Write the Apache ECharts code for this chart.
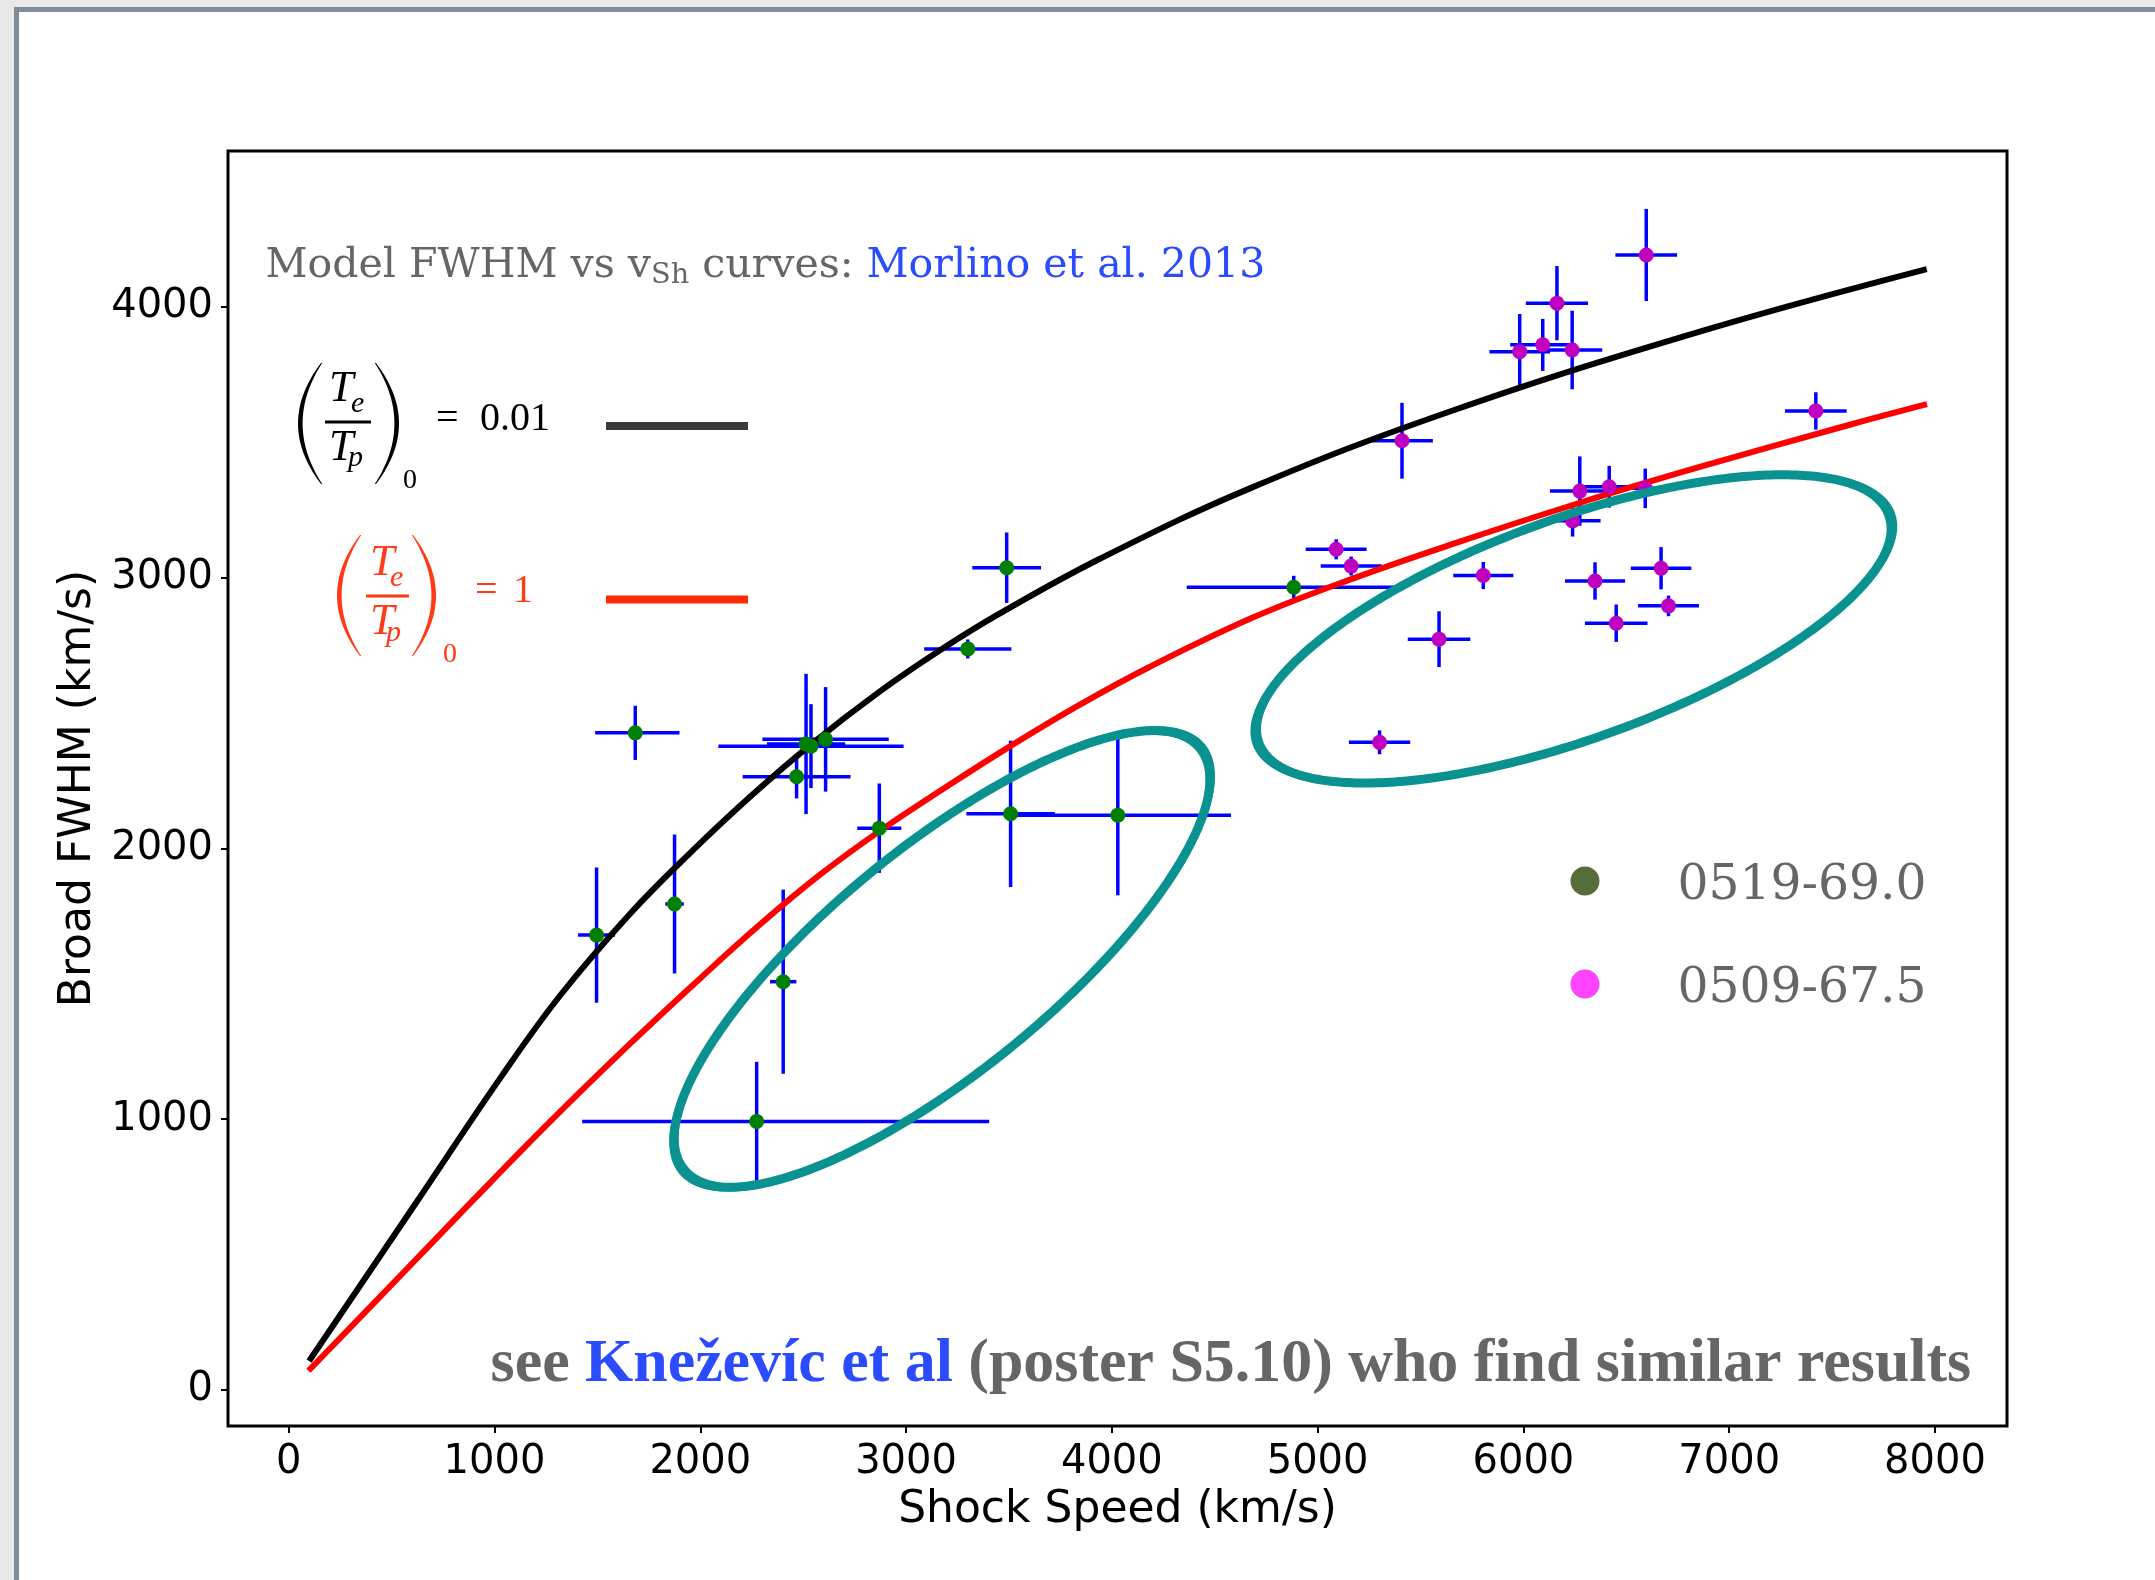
<!DOCTYPE html>
<html><head><meta charset="utf-8">
<script src="https://cdn.jsdelivr.net/npm/echarts@6/dist/echarts.min.js"></script>
<style>
html,body{margin:0;padding:0;width:2155px;height:1580px;overflow:hidden;background:#e9e9e9;}
#panel{position:absolute;left:14px;top:7px;right:0;bottom:0;background:#fff;border-left:5px solid #7e8c9b;border-top:5px solid #7e8c9b;}
#chart{position:absolute;left:0;top:0;width:2155px;height:1580px;}
</style></head><body><div id="panel"></div><div id="chart"></div>
<script>
// ---------------- data ----------------
const xTickValues = [0, 1000, 2000, 3000, 4000, 5000, 6000, 7000, 8000];
const xTickLabels = ['0', '1000', '2000', '3000', '4000', '5000', '6000', '7000', '8000'];
const yTickValues = [0, 1000, 2000, 3000, 4000];
const yTickLabels = ['0', '1000', '2000', '3000', '4000'];

// 0519-69.0 (green)
const g0519X     = [1496, 1684, 1875, 2274, 2403, 2468, 2514, 2538, 2609, 2870, 3300, 3489, 3508, 4029, 4884];
const g0519Y     = [1680, 2427, 1795,  992, 1508, 2265, 2386, 2378, 2403, 2075, 2737, 3037, 2128, 2123, 2965];
const g0519XErrLo= [  90,  195,   45,  848,   64,  262,  190,  450,  307,  107,  212,  167,  215,  550,  520];
const g0519XErrHi= [  90,  215,   45, 1130,   64,  262,  190,  450,  307,  107,  212,  167,  215,  550,  520];
const g0519YErr  = [ 250,  100,  257,  220,  340,   80,  259,  155,  193,  165,   35,  130,  270,  296,   42];

// 0509-67.5 (magenta)
const m0509X    = [5090, 5163, 5301, 5410, 5590, 5805, 5982, 6094, 6163, 6237, 6239, 6274, 6348, 6417, 6451, 6592, 6597, 6669, 6705, 7421];
const m0509Y    = [3105, 3043, 2392, 3506, 2773, 3008, 3835, 3860, 4014, 3841, 3210, 3320, 2988, 3336, 2832, 3330, 4192, 3035, 2896, 3616];
const m0509XErr = [ 148,  148,  149,  150,  152,  146,  147,  158,  151,  146,  136,  145,  146,  145,  152,  145,  150,  147,  148,  150];
const m0509YErr = [  37,   35,   44,  140,  103,   50,  139,   96,  137,  145,   58,  128,   69,   77,   69,   73,  170,   78,   38,   69];

// model curves (Morlino et al. 2013)
const curveLowX = [99, 624, 1027, 1319, 1659, 1950, 2242, 2533, 2873, 3165, 3456, 3942, 4671, 5643, 6857, 7960];  // (Te/Tp)0 = 0.01
const curveLowY = [107, 697, 1151, 1457, 1759, 1983, 2191, 2381, 2580, 2732, 2868, 3070, 3330, 3614, 3909, 4140];
const curveEqX  = [96, 541, 896, 1270, 1659, 1999, 2290, 2582, 2873, 3213, 3505, 3845, 4185, 4671, 5096, 5643, 6267, 6857, 7586, 7961]; // (Te/Tp)0 = 1
const curveEqY  = [71, 421, 701,  991, 1279, 1520, 1719, 1903, 2065, 2236, 2377, 2531, 2671, 2848, 2976, 3121, 3275, 3409, 3565, 3641];

// hand-drawn ellipses: centre, end of major axis, end of minor axis (data units)
const ellCenterX = [3175, 6245];
const ellCenterY = [1592, 2811];
const ellMajorX  = [4432, 7780];
const ellMajorY  = [2372, 3233];
const ellMinorX  = [3518, 6427];
const ellMinorY  = [1271, 2429];

const legendNames = ['0519-69.0', '0509-67.5'];

// ---------------- helpers ----------------
const mctx = document.createElement('canvas').getContext('2d');
function tw(text, font) { mctx.font = font; return mctx.measureText(text).width; }
const GRAY = '#666666', BLUE = '#2b4bff', RED_TXT = '#ff3a14';

function txt(text, x, baseline, size, family, opts) {
  opts = opts || {};
  const style = (opts.italic ? 'italic ' : '') + (opts.bold ? 'bold ' : '');
  return {
    type: 'text', x: x, y: baseline - 0.34 * size, z: 100,
    style: {
      text: text, font: style + size + 'px "' + family + '"', fill: opts.color || '#000',
      align: 'left', verticalAlign: 'middle', textAlign: 'left', textVerticalAlign: 'middle'
    }
  };
}
function paren(xEnd, yTop, yBot, xMid, thick, color) {
  const dir = xMid < xEnd ? 1 : -1;
  const cxOut = 2 * xMid - xEnd;
  const cxIn = 2 * (xMid + dir * thick) - xEnd;
  const pts = [];
  const N = 30;
  for (let i = 0; i <= N; i++) {
    const t = i / N;
    const x = (1 - t) * (1 - t) * xEnd + 2 * (1 - t) * t * cxOut + t * t * xEnd;
    const y = (1 - t) * (1 - t) * yTop + 2 * (1 - t) * t * ((yTop + yBot) / 2) + t * t * yBot;
    pts.push([x, y]);
  }
  for (let i = N; i >= 0; i--) {
    const t = i / N;
    const xe = xEnd + dir * 1.2;
    const x = (1 - t) * (1 - t) * xe + 2 * (1 - t) * t * cxIn + t * t * xe;
    const y = (1 - t) * (1 - t) * yTop + 2 * (1 - t) * t * ((yTop + yBot) / 2) + t * t * yBot;
    pts.push([x, y]);
  }
  return { type: 'polygon', z: 100, shape: { points: pts }, style: { fill: color } };
}
function hline(x1, x2, y, w, color) {
  return { type: 'line', z: 100, shape: { x1: x1, y1: y, x2: x2, y2: y }, style: { stroke: color, lineWidth: w } };
}

// ---------------- annotations (pixel layout) ----------------
const graphics = [];
(function () {
  const fam = 'DejaVu Serif';
  const p1 = 'Model FWHM vs v', sub = 'Sh', p2 = ' curves: ', p3 = 'Morlino et al. 2013';
  const w100 = tw(p1, '100px "' + fam + '"') + tw(sub, '70px "' + fam + '"') + tw(p2, '100px "' + fam + '"') + tw(p3, '100px "' + fam + '"');
  const S = 100 * 1000 / w100, s2 = S * 0.7;
  let x = 265.6; const base = 280;
  graphics.push(txt(p1, x, base, S, fam, { color: GRAY })); x += tw(p1, S + 'px "' + fam + '"');
  graphics.push(txt(sub, x, base + 5, s2, fam, { color: GRAY })); x += tw(sub, s2 + 'px "' + fam + '"');
  graphics.push(txt(p2, x, base, S, fam, { color: GRAY })); x += tw(p2, S + 'px "' + fam + '"');
  graphics.push(txt(p3, x, base, S, fam, { color: BLUE }));
})();
(function () {
  const c = '#000', f = 'Liberation Serif';
  graphics.push(paren(321, 363, 484, 298, 4, c));
  graphics.push(paren(376, 363, 484, 399, 4, c));
  graphics.push(txt('T', 329, 404, 44, f, { italic: true, color: c }));
  graphics.push(txt('e', 351, 414, 30, f, { italic: true, color: c }));
  graphics.push(hline(325, 371, 422, 3, c));
  graphics.push(txt('T', 329, 463, 44, f, { italic: true, color: c }));
  graphics.push(txt('p', 348, 468, 30, f, { italic: true, color: c }));
  graphics.push(txt('0', 403, 490, 28, f, { color: c }));
  graphics.push(txt('=', 436, 433, 40, f, { color: c }));
  graphics.push(txt('0.01', 480, 433, 40, f, { color: c }));
  graphics.push(hline(606, 748, 426, 8, '#3b3b3b'));
})();
(function () {
  const c = RED_TXT, f = 'Liberation Serif';
  graphics.push(paren(360, 535, 656, 337, 4, c));
  graphics.push(paren(413, 535, 656, 436, 4, c));
  graphics.push(txt('T', 370, 578, 44, f, { italic: true, color: c }));
  graphics.push(txt('e', 390, 588, 30, f, { italic: true, color: c }));
  graphics.push(hline(366, 409, 596, 3, c));
  graphics.push(txt('T', 370, 637, 44, f, { italic: true, color: c }));
  graphics.push(txt('p', 386, 643, 30, f, { italic: true, color: c }));
  graphics.push(txt('0', 443, 664, 28, f, { color: c }));
  graphics.push(txt('=', 475, 605, 40, f, { color: c }));
  graphics.push(txt('1', 513, 605, 40, f, { color: c }));
  graphics.push(hline(606, 748, 599.5, 8, '#ff2a00'));
})();
(function () {
  const fam = 'DejaVu Serif';
  const S = 100 * 249 / tw(legendNames[0], '100px "' + fam + '"');
  graphics.push({ type: 'circle', z: 100, shape: { cx: 1585, cy: 881, r: 14.5 }, style: { fill: '#566d3b' } });
  graphics.push({ type: 'circle', z: 100, shape: { cx: 1585, cy: 984, r: 14.5 }, style: { fill: '#ff44ff' } });
  graphics.push(txt(legendNames[0], 1677.6, 903, S, fam, { color: GRAY }));
  graphics.push(txt(legendNames[1], 1677.6, 1006, S, fam, { color: GRAY }));
})();
(function () {
  const fam = 'Liberation Serif';
  const a = 'see ', b = 'Kneževíc et al', c = ' (poster S5.10) who find similar results';
  const F = s => 'bold ' + s + 'px "' + fam + '"';
  const w100 = tw(a, F(100)) + tw(b, F(100)) + tw(c, F(100));
  const S = 100 * 1481 / w100;
  let x = 490.6; const base = 1386;
  graphics.push(txt(a, x, base, S, fam, { bold: true, color: GRAY })); x += tw(a, F(S));
  graphics.push(txt(b, x, base, S, fam, { bold: true, color: BLUE })); x += tw(b, F(S));
  graphics.push(txt(c, x, base, S, fam, { bold: true, color: GRAY }));
})();

// ---------------- series ----------------
function zip2(a, b) { return a.map((v, i) => [v, b[i]]); }
const greenErr = g0519X.map((x, i) => [x, g0519Y[i], g0519XErrLo[i], g0519XErrHi[i], g0519YErr[i], g0519YErr[i]]);
const magErr = m0509X.map((x, i) => [x, m0509Y[i], m0509XErr[i], m0509XErr[i], m0509YErr[i], m0509YErr[i]]);
const ellRows = ellCenterX.map((x, i) => [x, ellCenterY[i], ellMajorX[i], ellMajorY[i], ellMinorX[i], ellMinorY[i]]);

function errRender(params, api) {
  const x = api.value(0), y = api.value(1);
  const l = api.coord([x - api.value(2), y]), r = api.coord([x + api.value(3), y]);
  const b = api.coord([x, y - api.value(4)]), t = api.coord([x, y + api.value(5)]);
  const st = { stroke: '#0000ff', lineWidth: 3.5 };
  return { type: 'group', children: [
    { type: 'line', shape: { x1: l[0], y1: l[1], x2: r[0], y2: r[1] }, style: st },
    { type: 'line', shape: { x1: b[0], y1: b[1], x2: t[0], y2: t[1] }, style: st }
  ] };
}
function ellRender(params, api) {
  const C = api.coord([api.value(0), api.value(1)]);
  const A = api.coord([api.value(2), api.value(3)]);
  const B = api.coord([api.value(4), api.value(5)]);
  const U = [A[0] - C[0], A[1] - C[1]], V = [B[0] - C[0], B[1] - C[1]];
  // a few slightly offset strokes to give a marker-pen look
  const passes = [[1.0, 0.00, 9], [1.012, 0.02, 3], [0.988, -0.02, 3], [1.005, 0.05, 2], [0.995, -0.04, 2]];
  const children = passes.map(p => {
    const pts = [];
    const N = 360;
    for (let k = 0; k <= N; k++) {
      const t = 2 * Math.PI * k / N + p[1];
      pts.push([C[0] + p[0] * (Math.cos(t) * U[0] + Math.sin(t) * V[0]),
                C[1] + p[0] * (Math.cos(t) * U[1] + Math.sin(t) * V[1])]);
    }
    return { type: 'polyline', shape: { points: pts }, style: { stroke: '#0a9290', lineWidth: p[2], fill: 'none', lineJoin: 'round' } };
  });
  return { type: 'group', children: children };
}

const axisFont = { fontFamily: 'DejaVu Sans', color: '#000' };
const option = {
  animation: false,
  backgroundColor: 'transparent',
  grid: { left: 228, right: 148, top: 151, bottom: 154, show: true, borderColor: '#000', borderWidth: 3, backgroundColor: 'transparent' },
  xAxis: {
    type: 'value', min: -295, max: 8350, position: 'bottom',
    name: 'Shock Speed (km/s)', nameLocation: 'middle', nameGap: 63,
    nameTextStyle: Object.assign({ fontSize: 44 }, axisFont),
    axisLine: { show: false, onZero: false }, splitLine: { show: false },
    axisTick: { show: true, inside: false, length: 7, lineStyle: { color: '#000', width: 2 }, customValues: xTickValues },
    axisLabel: Object.assign({ customValues: xTickValues, fontSize: 40, margin: 17,
      formatter: v => xTickLabels[xTickValues.indexOf(v)] }, axisFont)
  },
  yAxis: {
    type: 'value', min: -133, max: 4576, position: 'left',
    name: 'Broad FWHM (km/s)', nameLocation: 'middle', nameGap: 123,
    nameTextStyle: Object.assign({ fontSize: 44 }, axisFont),
    axisLine: { show: false, onZero: false }, splitLine: { show: false },
    axisTick: { show: true, inside: false, length: 7, lineStyle: { color: '#000', width: 2 }, customValues: yTickValues },
    axisLabel: Object.assign({ customValues: yTickValues, fontSize: 40, margin: 15, padding: [12, 0, 0, 0],
      formatter: v => yTickLabels[yTickValues.indexOf(v)] }, axisFont)
  },
  series: [
    { type: 'custom', name: 'err0519', data: greenErr, renderItem: errRender, encode: { x: 0, y: 1 }, z: 2, silent: true },
    { type: 'custom', name: 'err0509', data: magErr, renderItem: errRender, encode: { x: 0, y: 1 }, z: 2, silent: true },
    { type: 'line', name: '(Te/Tp)0 = 0.01', data: zip2(curveLowX, curveLowY), smooth: 0.4,
      showSymbol: false, symbol: 'none', lineStyle: { color: '#000', width: 6 }, z: 3, silent: true },
    { type: 'line', name: '(Te/Tp)0 = 1', data: zip2(curveEqX, curveEqY), smooth: 0.4,
      showSymbol: false, symbol: 'none', lineStyle: { color: '#ff0000', width: 6 }, z: 3, silent: true },
    { type: 'scatter', name: legendNames[0], data: zip2(g0519X, g0519Y), symbol: 'circle', symbolSize: 15,
      itemStyle: { color: '#008000', opacity: 1 }, z: 4 },
    { type: 'scatter', name: legendNames[1], data: zip2(m0509X, m0509Y), symbol: 'circle', symbolSize: 15,
      itemStyle: { color: '#bf00bf', opacity: 1 }, z: 4 },
    { type: 'custom', name: 'ellipses', data: ellRows, renderItem: ellRender, encode: { x: [0, 2, 4], y: [1, 3, 5] }, z: 5, silent: true }
  ],
  graphic: { elements: graphics }
};
const chart = echarts.init(document.getElementById('chart'), null, { renderer: 'canvas' });
chart.setOption(option);
</script>
</body></html>
